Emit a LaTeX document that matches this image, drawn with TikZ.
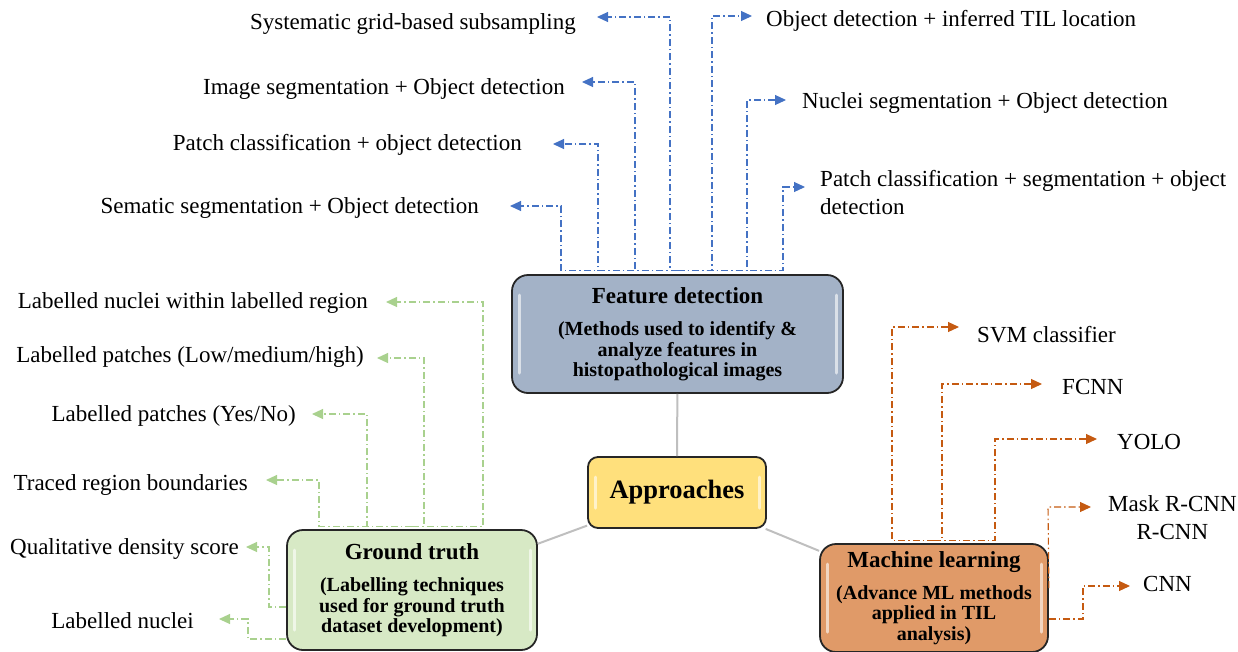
\documentclass[tikz,border=0pt]{standalone}
\usepackage{fontspec}
\setmainfont{Liberation Serif}
\usetikzlibrary{arrows.meta}

\definecolor{fdfill}{HTML}{A3B2C7}
\definecolor{apfill}{HTML}{FFE07C}
\definecolor{gtfill}{HTML}{D7E9C5}
\definecolor{mlfill}{HTML}{E09A68}
\definecolor{fdline}{HTML}{4472C4}
\definecolor{gtline}{HTML}{A9D18E}
\definecolor{mlline}{HTML}{C55A11}

\begin{document}
\begin{tikzpicture}[x=1pt, y=-1pt]

      \tikzstyle{box_style} = [draw=black!85, line width=1.8pt, rounded corners=16pt, align=center, inner sep=0pt,
        font=\bfseries\fontsize{20}{20.5}\selectfont,
        path picture={
          \draw[white, opacity=0.6, line width=3pt, line cap=round] ([xshift=7pt,yshift=-20pt]path picture bounding box.north west) -- ([xshift=7pt,yshift=20pt]path picture bounding box.south west);
          \draw[white, opacity=0.6, line width=3pt, line cap=round] ([xshift=-7pt,yshift=-20pt]path picture bounding box.north east) -- ([xshift=-7pt,yshift=20pt]path picture bounding box.south east);}]
        \tikzstyle{label_style} = [inner sep=0pt, font=\fontsize{23}{28}\selectfont]
        \tikzstyle{fd_arrow} = [draw=fdline, line width=1.1pt, dash pattern=on 7pt off 3pt on 1.5pt off 3pt, -{Triangle[length=11pt,width=10pt]}]
        \tikzstyle{gt_arrow} = [fd_arrow, draw=gtline, -{Triangle[length=11pt,width=10pt,fill=gtline]}]
        \tikzstyle{ml_arrow} = [fd_arrow, draw=mlline, -{Triangle[length=11pt,width=10pt,fill=mlline]}]
        \tikzstyle{grey_line} = [draw=black!25, line width=2pt]

      \useasboundingbox (0,0) rectangle (1238,651);

            \draw
              (677.5,334) node[box_style, fill=fdfill, minimum width=331pt, minimum height=118pt] (fd){{\fontsize{23}{23}\selectfont Feature detection}\\[12pt](Methods used to identify \&\\analyze features in\\histopathological images}
              (677,492.5) node[box_style, fill=apfill, rounded corners=10pt, minimum width=178pt, minimum height=71pt, font=\bfseries\fontsize{26.5}{28}\selectfont] (ap){Approaches}
              (412,590) node[box_style, fill=gtfill, minimum width=250pt, minimum height=120pt] (gt){{\fontsize{23}{23}\selectfont Ground truth}\\[12pt](Labelling techniques\\used for ground truth\\dataset development)}
              (934,598) node[box_style, fill=mlfill, minimum width=228pt, minimum height=108pt] (ml){{\fontsize{23}{23}\selectfont Machine learning}\\[11pt](Advance ML methods\\applied in TIL\\analysis)};

            \draw
              (576,24) node[label_style, anchor=east] (f1){Systematic grid-based subsampling}
              (565,89) node[label_style, anchor=east] (f2){Image segmentation + Object detection}
              (522,145) node[label_style, anchor=east] (f3){Patch classification + object detection}
              (479,208) node[label_style, anchor=east] (f4){Sematic segmentation + Object detection}
              (766,21) node[label_style, anchor=west] (f5){Object detection + inferred TIL location}
              (802,103) node[label_style, anchor=west] (f6){Nuclei segmentation + Object detection}
              (820,193) node[label_style, anchor=west, align=left] (f7){Patch classification + segmentation + object\\detection}
              (368,303) node[label_style, anchor=east] (g1){Labelled nuclei within labelled region}
              (364,357) node[label_style, anchor=east] (g2){Labelled patches (Low/medium/high)}
              (296,416) node[label_style, anchor=east] (g3){Labelled patches (Yes/No)}
              (248,485) node[label_style, anchor=east] (g4){Traced region boundaries}
              (239,549) node[label_style, anchor=east] (g5){Qualitative density score}
              (194,621) node[label_style, anchor=east] (g6){Labelled nuclei}
              (977,335) node[label_style, anchor=west] (m1){SVM classifier}
              (1062,387) node[label_style, anchor=west] (m2){FCNN}
              (1117,442) node[label_style, anchor=west] (m3){YOLO}
              (1108,518) node[label_style, anchor=west, align=center] (m4){Mask R-CNN\\R-CNN}
              (1143,584) node[label_style, anchor=west] (m5){CNN};

      \coordinate (c1) at (670,17);
      \coordinate (c2) at (635,82);
      \coordinate (c3) at (598,144);
      \coordinate (c4) at (561,206);
      \coordinate (c5) at (712,16);
      \coordinate (c6) at (747,100);
      \coordinate (c7) at (783,187);
      \coordinate (d1) at (483,302);
      \coordinate (d2) at (424,358);
      \coordinate (d3) at (367,414);
      \coordinate (d4) at (319,480);
      \coordinate (d5) at (269,547);
      \coordinate (d6) at (248,619);
      \coordinate (e1) at (892,327);
      \coordinate (e2) at (942,384);
      \coordinate (e3) at (995,439);
      \coordinate (e4) at (1048,507);
      \coordinate (e5) at (1083,586);

      \begin{scope}[-]
        \draw[grey_line] (fd) -- (ap);
        \draw[grey_line] (ap) -- (gt);
        \draw[grey_line] (ap) -- (ml);
        \draw[fd_arrow, shorten >=21pt] ([yshift=4pt]fd.north) -| (c1) -- (c1 -| f1.east);
        \draw[fd_arrow, shorten >=17pt] ([yshift=4pt]fd.north) -| (c2) -- (c2 -| f2.east);
        \draw[fd_arrow, shorten >=31pt] ([yshift=4pt]fd.north) -| (c3) -- (c3 -| f3.east);
        \draw[fd_arrow, shorten >=31pt] ([yshift=4pt]fd.north) -| (c4) -- (c4 -| f4.east);
        \draw[fd_arrow, shorten >=14pt] ([yshift=4pt]fd.north) -| (c5) -- (c5 -| f5.west);
        \draw[fd_arrow, shorten >=16pt] ([yshift=4pt]fd.north) -| (c6) -- (c6 -| f6.west);
        \draw[fd_arrow, shorten >=15pt] ([yshift=4pt]fd.north) -| (c7) -- (c7 -| f7.west);
        \draw[gt_arrow, shorten >=18pt] ([yshift=3pt]gt.north) -| (d1) -- (d1 -| g1.east);
        \draw[gt_arrow, shorten >=13pt] ([yshift=3pt]gt.north) -| (d2) -- (d2 -| g2.east);
        \draw[gt_arrow, shorten >=16pt] ([yshift=3pt]gt.north) -| (d3) -- (d3 -| g3.east);
        \draw[gt_arrow, shorten >=18pt] ([yshift=3pt]gt.north) -| (d4) -- (d4 -| g4.east);
        \draw[gt_arrow, shorten >=7pt] ([yshift=-17pt]gt.west) -| (d5) -- (d5 -| g5.east);
        \draw[gt_arrow, shorten >=25pt] ([yshift=-49pt]gt.west) -| (d6) -- (d6 -| g6.east);
        \draw[ml_arrow, shorten >=18pt] ([yshift=3pt]ml.north) -| (e1) -- (e1 -| m1.west);
        \draw[ml_arrow, shorten >=20pt] ([yshift=3pt]ml.north) -| (e2) -- (e2 -| m2.west);
        \draw[ml_arrow, shorten >=20pt] ([yshift=3pt]ml.north) -| (e3) -- (e3 -| m3.west);
        \draw[ml_arrow, shorten >=17pt] ([yshift=10pt]ml.east) -- (e4) -- (e4 -| m4.west);
        \draw[ml_arrow, shorten >=13pt] ([yshift=-21pt]ml.east) -| (e5) -- (e5 -| m5.west);
      \end{scope}
    \end{tikzpicture}
\end{document}
